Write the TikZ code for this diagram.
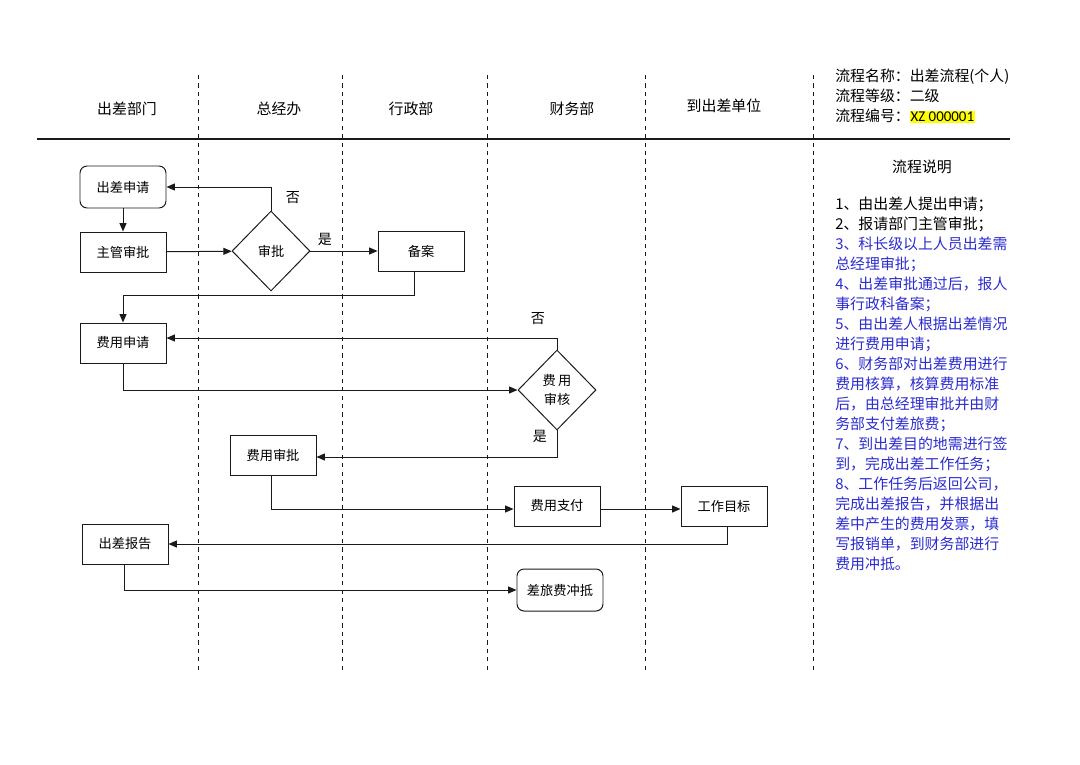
\documentclass[tikz,border=0pt]{standalone}
\usepackage{fontspec}
\setmainfont{Noto Sans CJK SC}
\newfontfamily\latinfont{Carlito}
\usepackage{xcolor}
\usetikzlibrary{arrows.meta,calc,positioning,shapes.geometric}
\definecolor{flowblack}{HTML}{1A1A1A}
\definecolor{noteblue}{HTML}{2B2BD0}
\definecolor{markyellow}{HTML}{FFFF00}
\tikzset{
  laneline/.style={flowblack, dashed, line width=0.6pt},
  headline/.style={flowblack, line width=0.8pt},
  flow/.style={flowblack, line width=0.7pt, -{Triangle[length=6pt,width=5pt]}},
  stepbox/.style={draw=flowblack, line width=0.7pt, minimum width=86\pxu, minimum height=40\pxu, inner sep=0pt, font=\fontsize{9.4}{11}\selectfont},
  termbox/.style={stepbox, rounded corners=5pt, minimum height=42\pxu},
  decide/.style={draw=flowblack, line width=0.7pt, diamond, aspect=1, minimum width=78\pxu, minimum height=80\pxu, inner sep=0pt, align=center, font=\fontsize{9.4}{13}\selectfont},
  lanehead/.style={font=\fontsize{10.6}{12}\selectfont},
  answer/.style={font=\fontsize{10}{12}\selectfont},
  notetext/.style={anchor=north west, align=left, inner sep=0pt, font=\fontsize{10.6}{14.2}\selectfont}
}
\newcommand{\pxu}{*0.025cm}
\begin{document}
\begin{tikzpicture}[x=0.025cm, y=-0.025cm]
  \useasboundingbox (0,0) rectangle (1080,764);
  % swim lanes
  \foreach \lx in {198,342,487,645,813}
    \draw[laneline] (\lx,75) -- (\lx,672);
  \draw[headline] (37,139) -- (1010,139);
  \node[lanehead] (h1) at (127,109) {出差部门};
  \node[lanehead] (h2) at (279,109) {总经办};
  \node[lanehead] (h3) at (411,109) {行政部};
  \node[lanehead] (h4) at (572,109) {财务部};
  \node[lanehead] (h5) at (724,106) {到出差单位};
  \node[notetext] (info) at (835,69) {流程名称：出差流程(个人)\\流程等级：二级\\流程编号：{\fboxsep=0.6pt\colorbox{markyellow}{\latinfont XZ 000001}}};
  % flow
  \node[termbox] (ccsq) at (123,187) {出差申请};
  \node[stepbox] (zgsp) at (123,252) {主管审批};
  \node[decide] (sp) at (271,251) {审批};
  \node[stepbox] (ba) at (421,251) {备案};
  \node[stepbox] (fysq) at (123,343) {费用申请};
  \node[decide] (fysh) at (557,390) {费\,用\\审核};
  \node[stepbox] (fysp) at (273,455) {费用审批};
  \node[stepbox] (fyzf) at (557,506) {费用支付};
  \node[stepbox] (gzmb) at (724,506) {工作目标};
  \node[stepbox] (ccbg) at (125,544) {出差报告};
  \node[termbox] (clfcd) at (560,590) {差旅费冲抵};
  \draw[flow] (ccsq) -- (zgsp);
  \draw[flow] (zgsp) -- (sp);
  \draw[flow] (sp.north) |- (ccsq.east);
  \node[answer] (no1) at (293,198) {否};
  \draw[flow] (sp) -- (ba);
  \node[answer] (yes1) at (325,239) {是};
  \draw[flow] ([xshift=-7\pxu]ba.south) -- ++(0,24) -| (fysq.north);
  \draw[flow] (fysq.south) |- (fysh.west);
  \draw[flow] (fysh.north) |- ([yshift=5\pxu]fysq.east);
  \node[answer] (no2) at (538,319) {否};
  \draw[flow] (fysh.south) |- ([yshift=-2\pxu]fysp.east);
  \node[answer] (yes2) at (540,436) {是};
  \draw[flow] ([xshift=-2\pxu]fysp.south) |- ([yshift=-3\pxu]fyzf.west);
  \draw[flow] ([yshift=-3\pxu]fyzf.east) -- ([yshift=-3\pxu]gzmb.west);
  \draw[flow] ([xshift=3\pxu]gzmb.south) |- (ccbg.east);
  \draw[flow] ([xshift=-1\pxu]ccbg.south) |- (clfcd.west);
  % notes
  \node[lanehead] (notehead) at (922,167) {流程说明};
  \node[notetext] (notes) at (835,197) {1、由出差人提出申请；\\2、报请部门主管审批；\\\color{noteblue}3、科长级以上人员出差需\\\color{noteblue}总经理审批；\\\color{noteblue}4、出差审批通过后，报人\\\color{noteblue}事行政科备案；\\\color{noteblue}5、由出差人根据出差情况\\\color{noteblue}进行费用申请；\\\color{noteblue}6、财务部对出差费用进行\\\color{noteblue}费用核算，核算费用标准\\\color{noteblue}后，由总经理审批并由财\\\color{noteblue}务部支付差旅费；\\\color{noteblue}7、到出差目的地需进行签\\\color{noteblue}到，完成出差工作任务；\\\color{noteblue}8、工作任务后返回公司，\\\color{noteblue}完成出差报告，并根据出\\\color{noteblue}差中产生的费用发票，填\\\color{noteblue}写报销单，到财务部进行\\\color{noteblue}费用冲抵。};
\end{tikzpicture}
\end{document}
